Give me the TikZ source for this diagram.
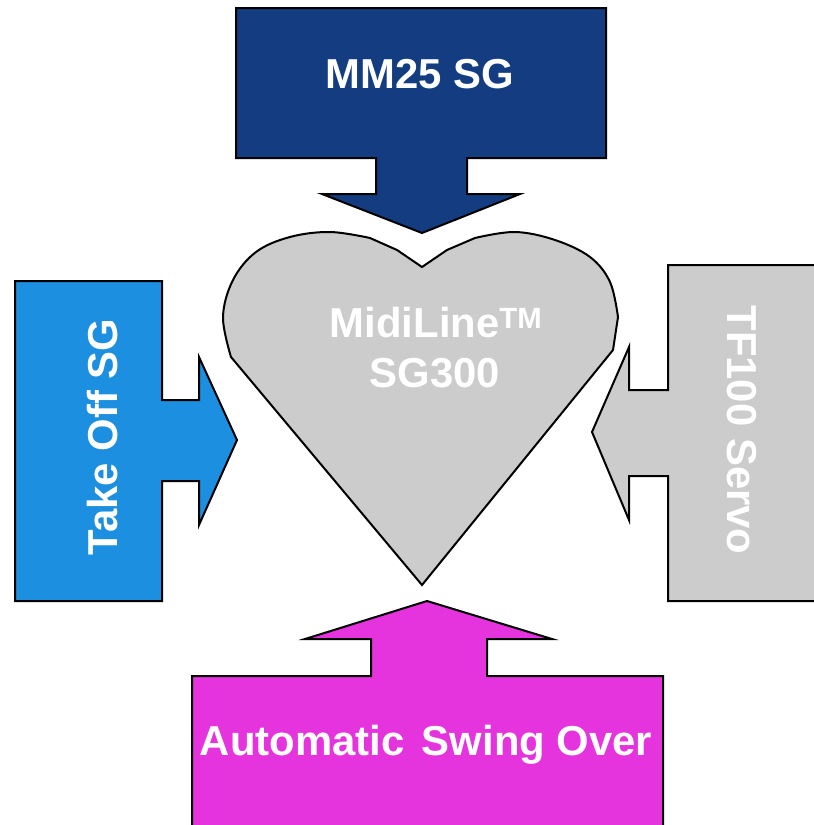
\documentclass[tikz,border=0pt]{standalone}
\usepackage{fontspec}
\setmainfont{Liberation Sans}
\usepackage{tikz}
\definecolor{mmblue}{RGB}{19,61,128}
\definecolor{takeblue}{RGB}{28,143,224}
\definecolor{servogray}{RGB}{204,204,204}
\definecolor{swingpink}{RGB}{229,52,221}

\begin{document}
\begin{tikzpicture}[x=1bp, y=-1bp, line join=miter,
        callout/.style={draw=black, line width=2bp},
        label/.style={text=white, font=\fontsize{42}{50}\selectfont\bfseries, inner sep=0pt, anchor=base}]
      \tikzstyle{heartbody} = [draw=black, line width=2bp, fill=servogray]
      \useasboundingbox (0,0) rectangle (814,825);
      \clip (0,0) rectangle (814,825);
      % heart in the middle
      \draw[heartbody] (422,267) -- (397,250)
        -- plot[smooth, tension=0.6] coordinates {(370,238) (330,232) (290,237) (256,252) (233,280) (223,317) (231,357)}
        -- (422,585) -- (613,350)
        -- plot[smooth, tension=0.6] coordinates {(618,317) (610,282) (590,257) (555,240) (515,232) (475,238)}
        -- (447,250) -- cycle;
      \node (mid) [label] at (436,337) {MidiLine\textsuperscript{TM}};
      \node (sg) [label] at (435,387) {SG300};
      % top
      \draw[callout, fill=mmblue] (236,8) -- (606,8) -- (606,158) -- (467,158) -- (467,194) -- (520,194)
        -- (422,233) -- (322,194) -- (376,194) -- (376,158) -- (236,158) -- cycle;
      \node (mm) [label] at (420,88) {MM25 SG};
      % left
      \draw[callout, fill=takeblue] (15,281) -- (162,281) -- (162,400) -- (199,400) -- (199,357)
        -- (237,440) -- (199,525) -- (199,481) -- (162,481) -- (162,601) -- (15,601) -- cycle;
      \node (take) [label, rotate=90] at (117,437) {Take Off SG};
      % right
      \draw[callout, fill=servogray] (830,265) -- (668,265) -- (668,390) -- (629,390) -- (629,347)
        -- (592,432) -- (629,520) -- (629,476) -- (668,476) -- (668,601) -- (830,601) -- cycle;
      \node (tf) [label, rotate=-90] at (727,430) {TF100 Servo};
      % bottom
      \draw[callout, fill=swingpink] (192,840) -- (192,676) -- (371,676) -- (371,639) -- (305,639)
        -- (427,601) -- (552,639) -- (487,639) -- (487,676) -- (663,676) -- (663,840) -- cycle;
      \node (swing) [label] at (426,755) {Automatic\hspace{6bp} Swing Over};
\end{tikzpicture}
\end{document}
